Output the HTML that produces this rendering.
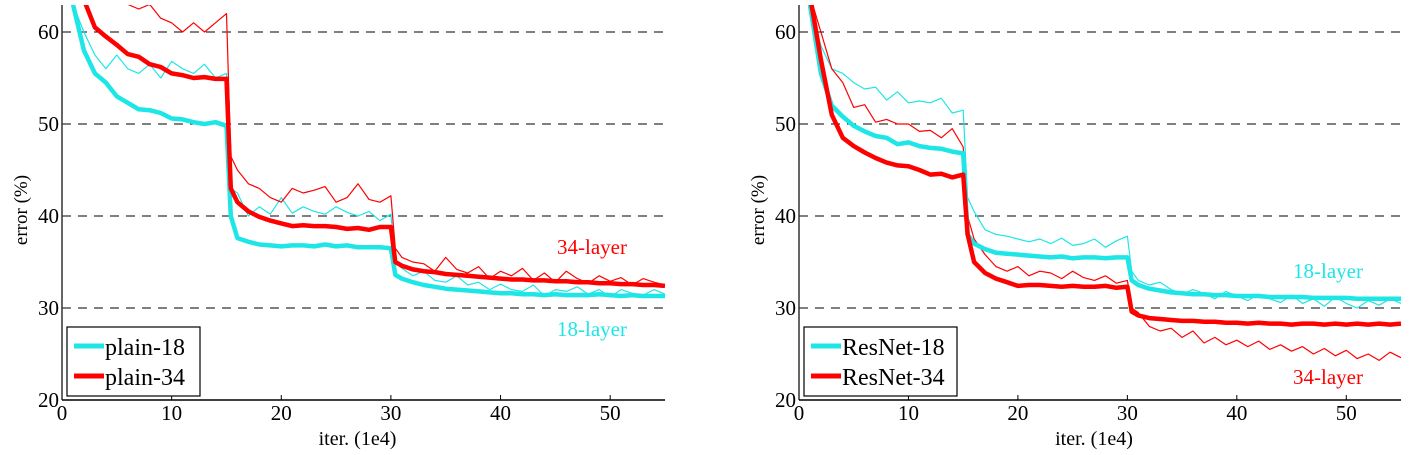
<!DOCTYPE html>
<html><head><meta charset="utf-8"><style>
html,body{margin:0;padding:0;background:#fff;}
svg{display:block;font-family:"Liberation Serif",serif;}
</style></head><body>
<svg id="chart" width="1409" height="455" viewBox="0 0 1409 455"></svg>
<script>
const iters=[1,2,3,4,5,6,7,8,9,10,11,12,13,14,15,15.4,16,17,18,19,20,21,22,23,24,25,26,27,28,29,30,30.4,31,32,33,34,35,36,37,38,39,40,41,42,43,44,45,46,47,48,49,50,51,52,53,54,55];
const xTicks=[0,10,20,30,40,50];
const yTicks=[20,30,40,50,60];
const plain18Train=[63,58,55.5,54.5,53,52.3,51.6,51.5,51.2,50.6,50.5,50.2,50,50.2,49.8,40,37.6,37.2,36.9,36.8,36.7,36.8,36.8,36.7,36.9,36.7,36.8,36.6,36.6,36.6,36.5,33.6,33.2,32.8,32.5,32.3,32.1,32,31.9,31.8,31.7,31.6,31.6,31.5,31.5,31.4,31.5,31.4,31.4,31.4,31.5,31.4,31.3,31.4,31.3,31.3,31.3];
const plain34Train=[68,63.5,60.5,59.5,58.6,57.6,57.3,56.5,56.2,55.5,55.3,55,55.1,54.9,54.9,43,41.5,40.5,39.9,39.5,39.2,38.9,39,38.9,38.9,38.8,38.6,38.7,38.5,38.8,38.8,35,34.6,34.2,34,33.9,33.7,33.6,33.5,33.4,33.3,33.2,33.1,33.1,33,33,32.9,32.9,32.8,32.8,32.7,32.7,32.6,32.6,32.5,32.5,32.4];
const plain18Val=[63,60,57.5,56,57.5,56,55.5,56.5,55,56.8,56,55.5,56.5,55,55.5,43,42.5,40,41,40.2,42,40.3,41,40.5,40.2,41,40.4,40,40.5,39.5,40.2,35,34.3,33.5,34,33,32.8,33.5,32.5,32.8,32,32.6,32,31.8,32.5,31.3,32,31.8,32.3,31.5,32,31.2,32,31.6,31.4,32,31.5];
const plain34Val=[68,66,64,63.5,64,63,62.5,63,61.5,61,60,61,60,61,62,46.5,45,43.5,43,42,41.5,43,42.5,42.8,43.2,41.5,42,43.5,41.8,41.5,42.2,36.5,35.5,35,34.8,34,35.5,34.2,33.8,34.5,33.2,34,33.5,34.3,33,33.8,32.8,34,33.2,32.7,33.5,32.9,33.3,32.5,33.2,32.8,32.5];
const resnet18Train=[63,55.5,52,50.8,49.8,49.2,48.7,48.5,47.8,48,47.6,47.4,47.3,47,46.8,38,37,36.4,36,35.9,35.8,35.7,35.6,35.5,35.6,35.4,35.5,35.5,35.4,35.5,35.5,33,32.5,32.1,31.9,31.7,31.6,31.5,31.5,31.4,31.4,31.3,31.3,31.3,31.2,31.2,31.2,31.2,31.1,31.1,31.1,31.1,31,31,31,31,31];
const resnet34Train=[64,57,51,48.5,47.6,46.9,46.3,45.8,45.5,45.4,45,44.5,44.6,44.2,44.5,38,35,33.8,33.2,32.8,32.4,32.5,32.5,32.4,32.3,32.4,32.3,32.3,32.4,32.2,32.3,29.6,29.2,28.9,28.8,28.7,28.6,28.6,28.5,28.5,28.4,28.4,28.3,28.4,28.3,28.3,28.2,28.3,28.3,28.2,28.3,28.2,28.3,28.2,28.3,28.2,28.3];
const resnet18Val=[63,58.5,56,55.5,54.5,53.8,54,52.6,53.5,52.3,52.5,52.3,52.8,51.2,51.5,42,40.5,38.5,38,37.8,37.5,37.2,37.5,37,37.6,36.8,37,37.5,36.6,37.3,37.8,34,33,32.5,32.8,32,31.5,32,31.6,31,31.8,31.3,30.8,31.5,31,30.6,31.4,30.5,31,30.2,31.2,30.5,30,30.8,30.3,31,30.5];
const resnet34Val=[64,60,56,54.5,51.8,52.1,50.2,50.5,50,50,49.2,49.3,48.5,49.5,47.5,40,37.5,35.8,34.5,34,34.5,33.5,34,33.8,33.2,34,33.3,33,33.5,32.7,33,30,29.5,28,27.5,27.8,26.8,27.5,26.2,26.8,26,26.5,25.8,26.4,25.5,26,25.3,25.8,25,25.6,24.8,25.4,24.5,25,24.3,25.2,24.6];

const NS='http://www.w3.org/2000/svg';
const svg=document.getElementById('chart');
const CYAN='#1ee6e6';
function mk(tag,attrs,parent){const e=document.createElementNS(NS,tag);for(const k in attrs)e.setAttribute(k,attrs[k]);(parent||svg).appendChild(e);return e;}

function panel(id,left,right,series,legendNames,labels,ylabelX){
  const top=5,bottom=400;
  const xs=v=>left+(v/55)*(right-left);
  const ys=v=>bottom-(v-20)*9.2;
  const g=mk('g',{});
  
  
  const cp=mk('clipPath',{id:id+'-clip'},g);
  mk('rect',{x:left,y:top,width:right-left,height:bottom-top},cp);
  yTicks.forEach(t=>{
    if(t>20){const l=mk('line',{x1:left,x2:right,y1:ys(t),y2:ys(t),stroke:'#000','stroke-width':1,'stroke-dasharray':'9,7'},g);
    
    }
    mk('line',{x1:left,x2:left+5,y1:ys(t),y2:ys(t),stroke:'#000'},g);
    const tx=mk('text',{x:left-3,y:ys(t)+7,'text-anchor':'end','font-size':21},g);
    tx.textContent=t;
    
    
  });
  xTicks.forEach(t=>{
    mk('line',{x1:xs(t),x2:xs(t),y1:bottom,y2:bottom-5,stroke:'#000'},g);
    const tx=mk('text',{x:xs(t),y:bottom+20,'text-anchor':'middle','font-size':21},g);
    tx.textContent=t;
    
    
  });
  const sg=mk('g',{'clip-path':'url(#'+id+'-clip)'},g);
  series.forEach(s=>{
    const d=s.vals.map((v,i)=>(i?'L':'M')+xs(iters[i]).toFixed(1)+','+ys(v).toFixed(1)).join(' ');
    const p=mk('path',{d:d,fill:'none',stroke:s.color,'stroke-width':s.w,'stroke-linejoin':'round'},sg);
    
    
  });
  mk('line',{x1:left,x2:left,y1:top,y2:bottom,stroke:'#333','stroke-width':1.5},g);
  mk('line',{x1:left,x2:right,y1:bottom,y2:bottom,stroke:'#000','stroke-width':1.5},g);
  const lg=mk('g',{},g);
  
  
  const lw=id==='plain'?133:153;
  mk('rect',{x:left+5,y:327,width:lw,height:69,fill:'#fff',stroke:'#000','stroke-width':1.2},lg);
  [[CYAN,legendNames[0],354],['#f00',legendNames[1],384]].forEach(([c,n,y])=>{
    mk('line',{x1:left+12,x2:left+42,y1:y-8,y2:y-8,stroke:c,'stroke-width':5},lg);
    const t=mk('text',{x:left+43,y:y+1,'font-size':24},lg);
    t.textContent=n;
    
    
  });
  labels.forEach(l=>{
    const t=mk('text',{x:l.x,y:l.y,fill:l.c,'font-size':21},g);
    t.textContent=l.t;
    
    
  });
  const yl=mk('text',{x:ylabelX,y:210,'text-anchor':'middle','font-size':19,transform:'rotate(-90 '+ylabelX+' 210)'},g);
  yl.textContent='error (%)';
  
  
  const xl=mk('text',{x:(left+right)/2-6,y:445,'text-anchor':'middle','font-size':20},g);
  xl.textContent='iter. (1e4)';
  
  
}
panel('plain',62,665,[
  {name:'plain-18-val-line',vals:plain18Val,color:CYAN,w:1.2},
  {name:'plain-34-val-line',vals:plain34Val,color:'#f00',w:1.2},
  {name:'plain-18-train-line',vals:plain18Train,color:CYAN,w:4.5},
  {name:'plain-34-train-line',vals:plain34Train,color:'#f00',w:4.5}
],['plain-18','plain-34'],[{t:'34-layer',x:557,y:254,c:'#f00'},{t:'18-layer',x:557,y:336,c:CYAN}],27);
panel('resnet',799,1401,[
  {name:'resnet-18-val-line',vals:resnet18Val,color:CYAN,w:1.2},
  {name:'resnet-34-val-line',vals:resnet34Val,color:'#f00',w:1.2},
  {name:'resnet-18-train-line',vals:resnet18Train,color:CYAN,w:4.5},
  {name:'resnet-34-train-line',vals:resnet34Train,color:'#f00',w:4.5}
],['ResNet-18','ResNet-34'],[{t:'18-layer',x:1293,y:278,c:CYAN},{t:'34-layer',x:1293,y:384,c:'#f00'}],764);
</script>
</body></html>
